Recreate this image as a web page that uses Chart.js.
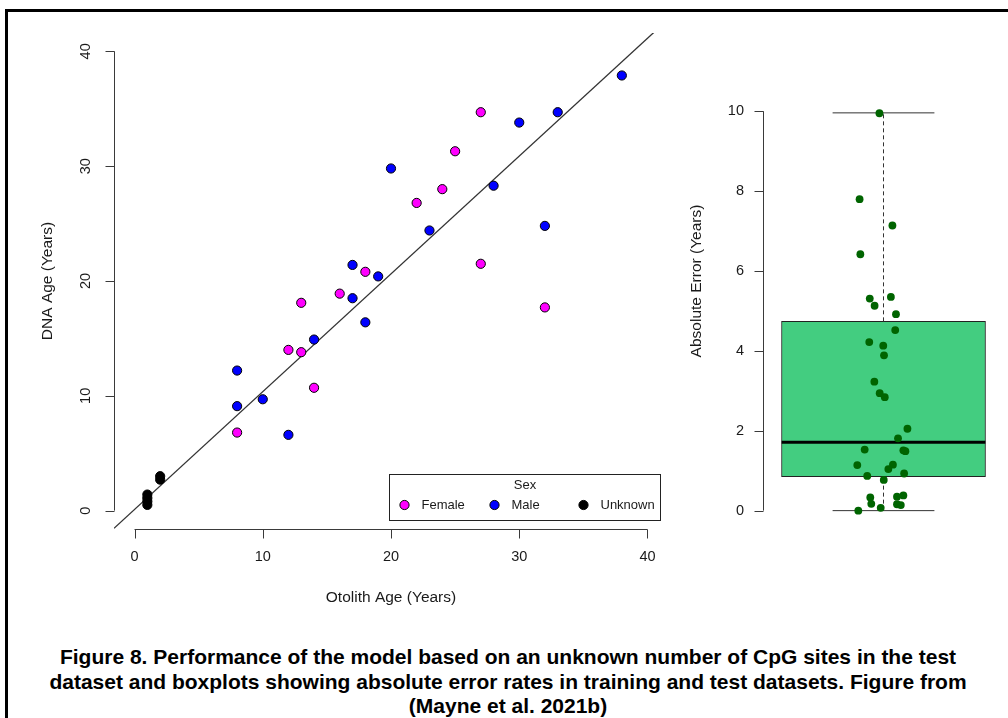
<!DOCTYPE html>
<html lang="en">
<head>
  <meta charset="UTF-8">
  <title>Figure 8 - DNA age vs otolith age</title>
  <script src="https://cdn.jsdelivr.net/npm/chart.js"></script>
  <style>
    body {
      margin: 0;
      background: #fff;
      font-family: "Liberation Sans", Arial, sans-serif;
    }
    .page {
      position: relative;
      width: 1008px;
      height: 718px;
      overflow: hidden;
    }
    .frame {
      position: absolute;
      left: 5px;
      top: 9px;
      width: 1040px;
      height: 740px;
      border: 3px solid #000;
      box-sizing: border-box;
    }
    #scatter { position: absolute; left: 0; top: 0; }
    #box { position: absolute; left: 680px; top: 0; }
    .caption {
      position: absolute;
      left: 0;
      top: 645px;
      width: 1016px;
      text-align: center;
      font-weight: bold;
      font-size: 21px;
      line-height: 24.5px;
      color: #000;
    }
  </style>
</head>
<body>
  <div class="page">
    <div class="frame"></div>
    <canvas id="scatter" width="680" height="620"></canvas>
    <canvas id="box" width="328" height="620"></canvas>
    <div class="caption">
      Figure 8. Performance of the model based on an unknown number of CpG sites in the test<br>
      dataset and boxplots showing absolute error rates in training and test datasets. Figure from<br>
      (Mayne et al. 2021b)
    </div>
  </div>

  <script>
    // scatter: otolith age vs DNA age, by sex
    const otolithFemale = [8, 12, 13, 13, 14, 16, 18, 22, 24, 25, 27, 27, 32];
    const dnaFemale = [6.8, 14.0, 18.1, 13.8, 10.7, 18.9, 20.8, 26.8, 28.0, 31.3, 34.7, 21.5, 17.7];
    const otolithMale = [8, 8, 10, 12, 14, 17, 17, 18, 19, 20, 23, 28, 30, 32, 33, 38];
    const dnaMale = [12.2, 9.1, 9.7, 6.6, 14.9, 21.4, 18.5, 16.4, 20.4, 29.8, 24.4, 28.3, 33.8, 24.8, 34.7, 37.9];
    const otolithUnknown = [1, 1, 1, 1, 2, 2];
    const dnaUnknown = [0.5, 0.8, 1.1, 1.4, 2.7, 3.0];
    const sexLabels = ["Female", "Male", "Unknown"];
    const sexColors = ["#ff00ff", "#0000ff", "#000000"];
    const fitIntercept = 0.1;
    const fitSlope = 1.026;
    const ageTicks = [0, 10, 20, 30, 40];
    const ageRange = [-1.6, 41.6];

    // boxplot: absolute error
    const errJitter = [0.984, 0.906, 1.035, 0.909, 0.946, 1.029, 0.965, 1.049, 1.046, 0.944, 0.999, 1.002,
      0.964, 0.985, 1.005, 1.094, 1.057, 0.926, 1.078, 1.086, 0.897, 1.037, 1.019, 0.936, 1.081, 1.001,
      0.948, 0.952, 1.053, 1.078, 1.053, 1.068, 0.989, 0.901];
    const errValues = [9.95, 7.8, 7.14, 6.42, 5.31, 5.35, 5.13, 4.92, 4.52, 4.22, 4.13, 3.89,
      3.23, 2.94, 2.84, 2.05, 1.81, 1.53, 1.51, 1.49, 1.14, 1.15, 1.04, 0.87, 0.93, 0.77,
      0.33, 0.17, 0.35, 0.38, 0.16, 0.14, 0.07, 0.0];
    const boxStats = [0, 0.85, 1.71, 4.74, 9.96]; // min, q1, median, q3, max
    const errTicks = [0, 2, 4, 6, 8, 10];

    const TICK_FONT = '14.5px "Liberation Sans", Arial, sans-serif';
    const TITLE_FONT = '15.5px "Liberation Sans", Arial, sans-serif';
    const LEGEND_FONT = '13px "Liberation Sans", Arial, sans-serif';
    const TEXT = "#1a1a1a";
    const AXIS = "#3a3a3a";

    const pts = (xs, ys) => xs.map((v, i) => ({ x: v, y: ys[i] }));

    // R style axes for the scatter plot
    const scatterAxes = {
      id: "scatterAxes",
      afterDraw(chart) {
        const { ctx, chartArea: a, scales: { x, y } } = chart;
        ctx.save();
        ctx.strokeStyle = AXIS;
        ctx.lineWidth = 1;
        ctx.fillStyle = TEXT;
        ctx.font = TICK_FONT;
        ctx.textAlign = "center";
        ctx.textBaseline = "middle";

        // x axis
        const yb = Math.round(a.bottom) + 0.5;
        ctx.beginPath();
        ctx.moveTo(x.getPixelForValue(ageTicks[0]), yb);
        ctx.lineTo(x.getPixelForValue(ageTicks[ageTicks.length - 1]), yb);
        ageTicks.forEach(t => {
          const px = Math.round(x.getPixelForValue(t)) + 0.5;
          ctx.moveTo(px, yb);
          ctx.lineTo(px, yb + 9);
        });
        ctx.stroke();
        ageTicks.forEach(t => ctx.fillText(String(t), x.getPixelForValue(t), a.bottom + 28));

        // y axis
        const xl = Math.round(a.left) + 0.5;
        ctx.beginPath();
        ctx.moveTo(xl, y.getPixelForValue(ageTicks[0]));
        ctx.lineTo(xl, y.getPixelForValue(ageTicks[ageTicks.length - 1]));
        ageTicks.forEach(t => {
          const py = Math.round(y.getPixelForValue(t)) + 0.5;
          ctx.moveTo(xl, py);
          ctx.lineTo(xl - 9, py);
        });
        ctx.stroke();
        ageTicks.forEach(t => {
          ctx.save();
          ctx.translate(a.left - 28, y.getPixelForValue(t));
          ctx.rotate(-Math.PI / 2);
          ctx.fillText(String(t), 0, 0);
          ctx.restore();
        });

        // axis titles
        ctx.font = TITLE_FONT;
        ctx.fillText("Otolith Age (Years)", (a.left + a.right) / 2, a.bottom + 69);
        ctx.save();
        ctx.translate(48, (a.top + a.bottom) / 2);
        ctx.rotate(-Math.PI / 2);
        ctx.fillText("DNA Age (Years)", 0, 0);
        ctx.restore();

        // legend, bottom right inside the plot
        ctx.font = LEGEND_FONT;
        const lw = 271, lh = 46;
        const lx = Math.round(a.right - 8 - lw) + 0.5;
        const ly = Math.round(a.bottom - 9 - lh) + 0.5;
        ctx.fillStyle = "#fff";
        ctx.fillRect(lx, ly, lw, lh);
        ctx.strokeStyle = "#222";
        ctx.strokeRect(lx, ly, lw, lh);
        ctx.fillStyle = TEXT;
        ctx.fillText("Sex", lx + lw / 2, ly + 11);
        const markX = [15, 105, 194];
        ctx.textAlign = "left";
        sexLabels.forEach((lab, i) => {
          ctx.beginPath();
          ctx.arc(lx + markX[i], ly + 30.5, 4.6, 0, Math.PI * 2);
          ctx.fillStyle = sexColors[i];
          ctx.fill();
          ctx.strokeStyle = "#000";
          ctx.stroke();
          ctx.fillStyle = TEXT;
          ctx.fillText(lab, lx + markX[i] + 17, ly + 31);
        });
        ctx.restore();
      }
    };

    const dotStyle = color => ({
      backgroundColor: color,
      borderColor: "#000",
      borderWidth: 1,
      pointRadius: 4.6,
      pointHoverRadius: 4.6
    });

    new Chart(document.getElementById("scatter"), {
      type: "scatter",
      data: {
        datasets: [
          { label: sexLabels[0], data: pts(otolithFemale, dnaFemale), order: 0, ...dotStyle(sexColors[0]) },
          { label: sexLabels[1], data: pts(otolithMale, dnaMale), order: 0, ...dotStyle(sexColors[1]) },
          { label: sexLabels[2], data: pts(otolithUnknown, dnaUnknown), order: 0, ...dotStyle(sexColors[2]) },
          {
            type: "line",
            label: "fit",
            data: ageRange.map(v => ({ x: v, y: fitIntercept + fitSlope * v })),
            borderColor: "#333",
            borderWidth: 1.3,
            pointRadius: 0,
            order: 1
          }
        ]
      },
      options: {
        responsive: false,
        devicePixelRatio: 1,
        animation: false,
        layout: { padding: { left: 114, right: 12, top: 33, bottom: 91 } },
        plugins: { legend: { display: false }, tooltip: { enabled: false } },
        scales: {
          x: { type: "linear", min: ageRange[0], max: ageRange[1], display: false },
          y: { type: "linear", min: ageRange[0], max: ageRange[1], display: false }
        }
      },
      plugins: [scatterAxes]
    });

    // axis for the boxplot
    const boxAxes = {
      id: "boxAxes",
      afterDraw(chart) {
        const { ctx, chartArea: a, scales: { y } } = chart;
        ctx.save();
        ctx.strokeStyle = AXIS;
        ctx.lineWidth = 1;
        ctx.fillStyle = TEXT;
        ctx.font = TICK_FONT;
        const xl = Math.round(a.left) + 0.5;
        ctx.beginPath();
        ctx.moveTo(xl, y.getPixelForValue(errTicks[0]));
        ctx.lineTo(xl, y.getPixelForValue(errTicks[errTicks.length - 1]));
        errTicks.forEach(t => {
          const py = Math.round(y.getPixelForValue(t)) + 0.5;
          ctx.moveTo(xl, py);
          ctx.lineTo(xl - 9, py);
        });
        ctx.stroke();
        ctx.textAlign = "right";
        ctx.textBaseline = "middle";
        errTicks.forEach(t => ctx.fillText(String(t), a.left - 19, y.getPixelForValue(t)));
        ctx.font = TITLE_FONT;
        ctx.save();
        ctx.translate(17, (a.top + a.bottom) / 2);
        ctx.rotate(-Math.PI / 2);
        ctx.textAlign = "center";
        ctx.fillText("Absolute Error (Years)", 0, 0);
        ctx.restore();
        ctx.restore();
      }
    };

    const boxHalf = 0.4, capHalf = 0.2;
    const [bMin, bQ1, bMed, bQ3, bMax] = boxStats;
    const segment = (x0, y0, x1, y1, extra) => ({
      type: "line",
      data: [{ x: x0, y: y0 }, { x: x1, y: y1 }],
      pointRadius: 0,
      borderWidth: 1,
      borderColor: "#333",
      ...extra
    });

    new Chart(document.getElementById("box"), {
      type: "scatter",
      data: {
        datasets: [
          {
            label: "error",
            data: pts(errJitter, errValues),
            backgroundColor: "#006400",
            borderColor: "#006400",
            borderWidth: 0,
            pointRadius: 3.9,
            pointHoverRadius: 3.9,
            order: 0
          },
          segment(1 - boxHalf, bMed, 1 + boxHalf, bMed, { borderWidth: 3, borderColor: "#000", order: 1 }),
          segment(1, bQ3, 1, bMax, { borderDash: [4, 3], order: 2 }),
          segment(1, bMin, 1, bQ1, { borderDash: [4, 3], order: 2 }),
          segment(1 - capHalf, bMax, 1 + capHalf, bMax, { order: 2 }),
          segment(1 - capHalf, bMin, 1 + capHalf, bMin, { order: 2 }),
          {
            type: "bar",
            label: "box",
            data: [{ x: 1, y: [bQ1, bQ3] }],
            backgroundColor: "#43cd80",
            borderColor: "#222",
            borderWidth: 1,
            borderSkipped: false,
            barThickness: 204,
            order: 3
          }
        ]
      },
      options: {
        responsive: false,
        devicePixelRatio: 1,
        animation: false,
        layout: { padding: { left: 83, right: 5, top: 33, bottom: 91 } },
        plugins: { legend: { display: false }, tooltip: { enabled: false } },
        scales: {
          x: { type: "linear", offset: false, min: 0.5265, max: 1.4695, display: false },
          y: { type: "linear", min: -0.46, max: 11.96, display: false }
        }
      },
      plugins: [boxAxes]
    });
  </script>
</body>
</html>
